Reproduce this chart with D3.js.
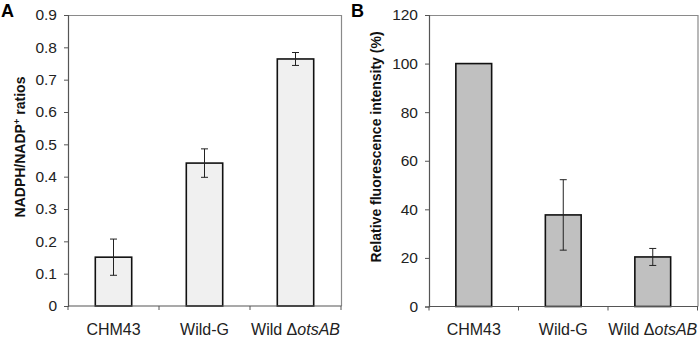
<!DOCTYPE html>
<html>
<head>
<meta charset="utf-8">
<script src="https://cdn.jsdelivr.net/npm/d3@7"></script>
<style>
  body { margin: 0; background: #fff; }
  text { font-family: "Liberation Sans", Arial, sans-serif; }
</style>
</head>
<body>
<svg id="mainsvg" width="700" height="337"></svg>
<script>
const strains = ['CHM43', 'Wild-G', 'Wild ΔotsAB'];
const ratioValues = [0.151, 0.442, 0.764];
const ratioErrors = [0.056, 0.044, 0.020];
const ratioTicks = [0, 0.1, 0.2, 0.3, 0.4, 0.5, 0.6, 0.7, 0.8, 0.9];
const fluorValues = [100, 37.7, 20.4];
const fluorErrors = [0, 14.5, 3.5];
const fluorTicks = [0, 20, 40, 60, 80, 100, 120];

const svg = d3.select('#mainsvg');

// one panel: frame, bars, error bars, axes and labels
const panel = function(opt) {
  const g = svg.append('g');
  const x = d3.scaleBand().domain(strains)
    .range([opt.left, opt.right]).paddingInner(0.6).paddingOuter(0.3);
  const y = d3.scaleLinear().domain([0, opt.max]).range([opt.bottom, opt.top]);

  // top and right border
  g.append('path')
    .attr('d', `M${opt.left},${opt.top + 0.5}H${opt.right + 0.5}V${opt.bottom}`)
    .attr('fill', 'none').attr('stroke', '#8a8a8a').attr('stroke-width', 1.2);

  g.selectAll('rect.bar').data(opt.values).join('rect')
    .attr('class', 'bar')
    .attr('x', (d, i) => x(strains[i]))
    .attr('y', d => y(d))
    .attr('width', x.bandwidth())
    .attr('height', d => y(0) - y(d))
    .attr('fill', opt.fill)
    .attr('stroke', '#111')
    .attr('stroke-width', 1.6);

  const err = g.selectAll('g.err').data(opt.values.map((v, i) => ({ v, e: opt.errors[i], i })).filter(d => d.e > 0))
    .join('g').attr('class', 'err')
    .attr('transform', d => `translate(${x(strains[d.i]) + x.bandwidth() / 2},0)`);
  err.append('line').attr('y1', d => y(d.v + d.e)).attr('y2', d => y(d.v - d.e));
  err.append('line').attr('x1', -3.5).attr('x2', 3.5).attr('y1', d => y(d.v + d.e)).attr('y2', d => y(d.v + d.e));
  err.append('line').attr('x1', -3.5).attr('x2', 3.5).attr('y1', d => y(d.v - d.e)).attr('y2', d => y(d.v - d.e));
  err.selectAll('line').attr('stroke', '#222').attr('stroke-width', 1);

  // y axis
  const ya = g.append('g').attr('transform', `translate(${opt.left},0)`)
    .call(d3.axisLeft(y).tickValues(opt.ticks).tickSize(4).tickPadding(7).tickFormat(opt.fmt));
  ya.select('.domain').attr('stroke', '#555').attr('stroke-width', 1.2);
  ya.selectAll('.tick line').attr('stroke', '#555');
  ya.selectAll('.tick text').attr('font-size', 15.5).attr('fill', '#222')
    .attr('font-family', '"Liberation Sans", Arial, sans-serif');

  // x axis with ticks on category boundaries
  const bounds = d3.range(strains.length + 1).map(i => opt.left + (opt.right - opt.left) * i / strains.length);
  g.append('line').attr('x1', opt.left).attr('x2', opt.right + 0.5)
    .attr('y1', opt.bottom).attr('y2', opt.bottom)
    .attr('stroke', '#555').attr('stroke-width', 1.2);
  g.selectAll('line.xt').data(bounds).join('line').attr('class', 'xt')
    .attr('x1', d => d).attr('x2', d => d)
    .attr('y1', opt.bottom).attr('y2', opt.bottom + 4)
    .attr('stroke', '#555');

  const lab = g.selectAll('text.cat').data(strains).join('text').attr('class', 'cat')
    .attr('x', d => x(d) + x.bandwidth() / 2)
    .attr('y', 335)
    .attr('text-anchor', 'middle')
    .attr('font-size', 16).attr('fill', '#222');
  lab.each(function(d) {
    const t = d3.select(this);
    if (d.indexOf('Δ') >= 0) {
      t.append('tspan').text('Wild Δ');
      t.append('tspan').attr('font-style', 'italic').text('otsAB');
    } else t.text(d);
  });

  // y title
  const yt = g.append('text')
    .attr('transform', `translate(${opt.titleX},147) rotate(-90)`)
    .attr('text-anchor', 'middle')
    .attr('font-size', 14).attr('font-weight', 'bold').attr('fill', '#111');
  opt.title(yt);

  g.append('text').attr('x', opt.letterX).attr('y', 17)
    .attr('font-size', 18).attr('font-weight', 'bold').text(opt.letter);
};

panel({
  left: 68, right: 341, top: 15, bottom: 306, max: 0.9,
  values: ratioValues, errors: ratioErrors, ticks: ratioTicks,
  fmt: d => d === 0 ? '0' : d3.format('.1f')(d),
  fill: '#f0f0f0', titleX: 25, letterX: 1, letter: 'A',
  title: t => {
    t.append('tspan').text('NADPH/NADP');
    t.append('tspan').attr('font-size', 9.5).attr('dy', -5).text('+');
    t.append('tspan').attr('dy', 5).text(' ratios');
  }
});

panel({
  left: 429, right: 697.5, top: 15, bottom: 306.5, max: 120,
  values: fluorValues, errors: fluorErrors, ticks: fluorTicks,
  fmt: d3.format('d'),
  fill: '#c0c0c0', titleX: 381, letterX: 351, letter: 'B',
  title: t => t.text('Relative fluorescence intensity (%)')
});
</script>
</body>
</html>
